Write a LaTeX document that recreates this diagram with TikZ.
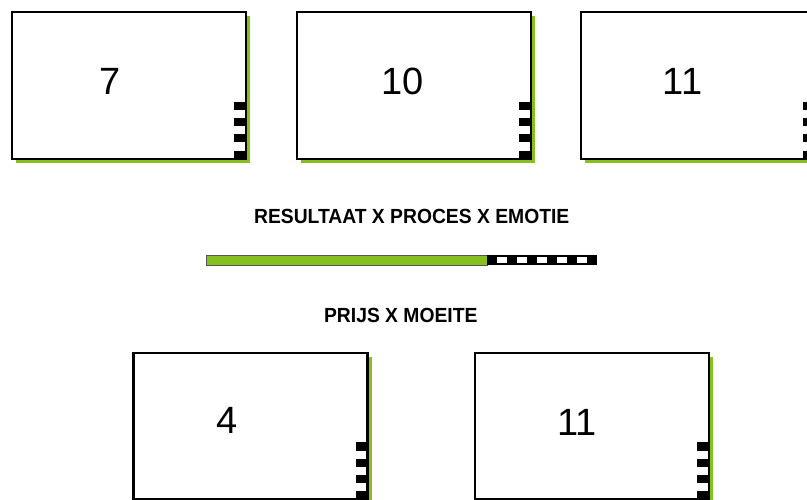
\documentclass[tikz,border=0pt]{standalone}
\usepackage{fontspec}
\setmainfont{Liberation Sans}
\usepackage{tikz}
\usetikzlibrary{positioning,calc,shadows}
\definecolor{ScoreGreen}{RGB}{135,192,30}
\definecolor{BarEdge}{RGB}{85,85,85}
\tikzset{
  card/.style={rectangle,draw=black,fill=white,line width=2.2pt,outer sep=0pt,inner sep=0pt,
    minimum width=234pt,minimum height=146.5pt,
    drop shadow={fill=ScoreGreen,opacity=1,shadow xshift=4pt,shadow yshift=-4pt}},
  score/.style={font=\fontsize{38}{40}\selectfont,inner sep=0pt},
  caption/.style={font=\bfseries\fontsize{19.3}{22}\selectfont,inner sep=0pt,yscale=1.06},
}
\tikzset{blackblock/.style={fill=black},whiteblock/.style={fill=white}}

\begin{document}
\begin{tikzpicture}[x=1pt,y=-1pt]
\useasboundingbox (0,0) rectangle (807,500);
% score cards
\node[card] (k1) at (129.2,85.5) {};
\node[card] (k2) at (414,85.5) {};
\node[card] (k3) at (698,85.5) {};
\node[card] (k4) at (250.5,426.3) {};
\node[card] (k5) at (592.3,426.3) {};
\foreach \k in {k1,k2,k3,k4,k5}{
  \foreach \i in {0,...,3}
    \fill[blackblock] ($(\k.south east)+(-12,-16.3*\i)$) rectangle ++(12,-8.2);
}
\node[score] (n1) at (110,81.5) {7};
\node[score] (n2) at (403,81.5) {10};
\node[score] (n3) at (682.5,81.5) {11};
\node[score] (n4) at (227,420) {4};
\node[score] (n5) at (577,422) {11};
% captions and bar
\node[caption] (proces) at (411.7,216.7) {RESULTAAT X PROCES X EMOTIE};
\node[caption] (moeite) at (400.8,315) {PRIJS X MOEITE};
\filldraw[fill=ScoreGreen,draw=BarEdge,line width=0.8pt] (206,255.5) rectangle (487,265);
\fill[blackblock] (487,255) rectangle (597,265.5);
\foreach \i in {1,3,...,9}
  \fill[whiteblock] (487+10*\i,257) rectangle ++(10,6.5);
\end{tikzpicture}
\end{document}
